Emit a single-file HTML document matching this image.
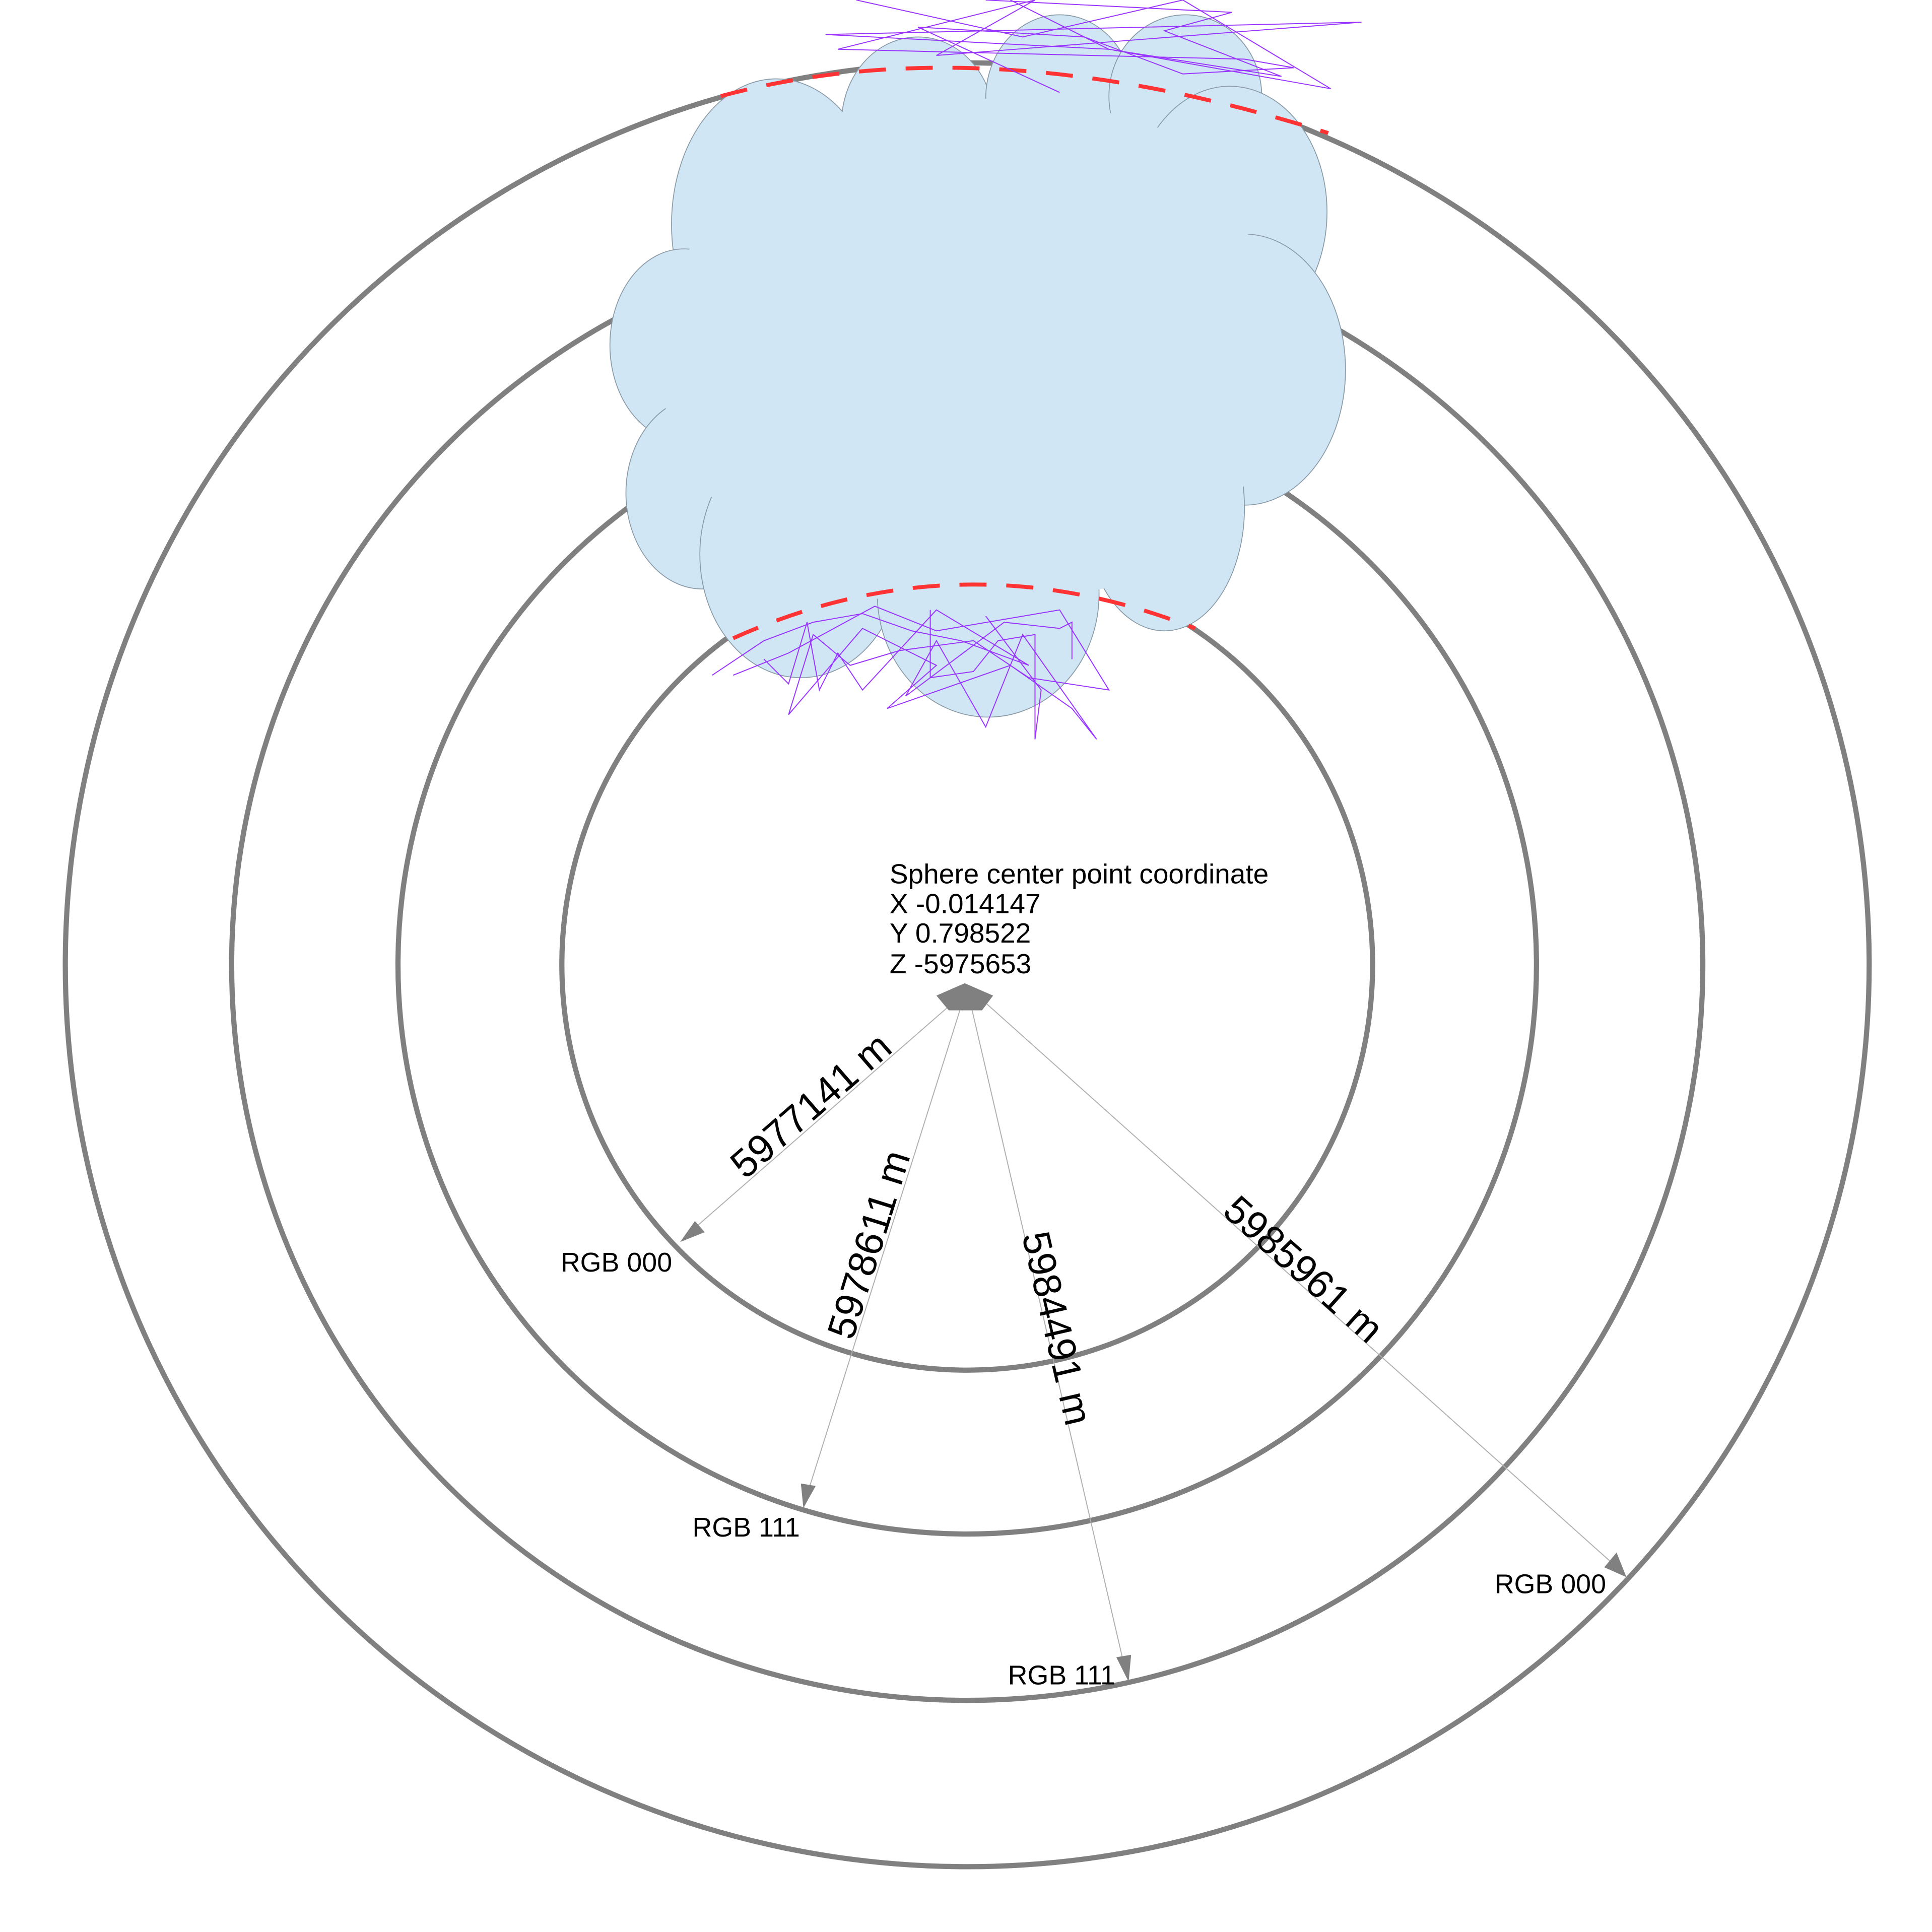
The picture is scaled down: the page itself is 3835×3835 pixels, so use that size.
<!DOCTYPE html>
<html><head><style>html,body{margin:0;padding:0;background:#fff}svg{display:block}</style></head><body>
<svg width="3835" height="3835" viewBox="0 0 1568 1568" xmlns="http://www.w3.org/2000/svg" font-family="Liberation Sans, sans-serif">
<rect width="1568" height="1568" fill="#fff"/>
<g fill="none" stroke="#808080" stroke-width="4.2">
<circle cx="785" cy="783" r="329"/>
<circle cx="785" cy="783" r="462"/>
<circle cx="785" cy="783" r="597"/>
<circle cx="785" cy="783" r="732"/>
</g>
<g fill="#d0e6f4" stroke="#8a9aa6" stroke-width="0.7">
<ellipse cx="745" cy="100" rx="62" ry="70"/>
<ellipse cx="860" cy="80" rx="60" ry="68"/>
<ellipse cx="962" cy="78" rx="62" ry="66"/>
<ellipse cx="630" cy="182" rx="85" ry="118"/>
<ellipse cx="998" cy="172" rx="79" ry="102"/>
<ellipse cx="1010" cy="300" rx="82" ry="110"/>
<ellipse cx="555" cy="280" rx="60" ry="78"/>
<ellipse cx="570" cy="400" rx="62" ry="78"/>
<ellipse cx="945" cy="412" rx="65" ry="100"/>
<ellipse cx="650" cy="450" rx="82" ry="100"/>
<ellipse cx="802" cy="482" rx="90" ry="100"/>
</g>
<ellipse cx="790" cy="290" rx="255" ry="205" fill="#d0e6f4"/>
<ellipse cx="790" cy="150" rx="200" ry="70" fill="#d0e6f4"/>
<ellipse cx="780" cy="430" rx="190" ry="60" fill="#d0e6f4"/>
<g fill="none" stroke="#ff3333" stroke-width="3.2" stroke-dasharray="22,16">
<path d="M585,78 Q800,20 1078,108"/>
<path d="M595,518 Q780,435 970,510"/>
</g>
<g fill="none" stroke="#9933ff" stroke-width="0.8">
<polyline points="695,0 830,30 960,0 1080,72 900,40 670,28 1105,18 760,45 840,0 680,40 1010,48 1050,55 960,60 880,30 745,22 860,75"/>
<polyline points="820,0 900,40 1040,62 945,25 1000,10 800,0"/>
<polyline points="595,548 640,530 710,492 760,512 860,495 900,560 835,550 790,520 730,528 690,540 660,515 640,580 700,510 760,540 720,575 820,540 870,575 890,600 830,515 800,590 760,520 735,565 815,505 860,510 870,505 870,535"/>
<polyline points="578,548 620,520 660,505 700,498 740,512 780,520 835,540 760,495 700,560 680,530 665,560 655,505 640,555 620,535"/>
<polyline points="755,495 755,550 790,545 810,520 840,515 840,600 845,560 800,500"/>
</g>
<g stroke="#b0b0b0" stroke-width="0.8" fill="none">
<line x1="772" y1="815" x2="560" y2="1000"/>
<line x1="779" y1="820" x2="656" y2="1210"/>
<line x1="789" y1="820" x2="912" y2="1350"/>
<line x1="800" y1="814" x2="1310" y2="1270"/>
</g>
<g fill="#808080">
<polygon points="783,798 806,808 797,820 770,820 760,808"/>
<polygon points="552,1008 564,991 572,1000"/>
<polygon points="652,1224 650,1204 662,1206"/>
<polygon points="916,1365 906,1345 918,1343"/>
<polygon points="1320,1280 1302,1272 1312,1260"/>
</g>
<g fill="#000" font-size="22.5">
<text x="722" y="717">Sphere center point coordinate</text>
<text x="722" y="741">X -0.014147</text>
<text x="722" y="765">Y 0.798522</text>
<text x="722" y="790">Z -5975653</text>
<text x="455" y="1032" font-size="22">RGB 000</text>
<text x="562" y="1247" font-size="22">RGB 111</text>
<text x="818" y="1367" font-size="22">RGB 111</text>
<text x="1213" y="1293" font-size="22">RGB 000</text>
</g>
<g fill="#000" font-size="32" text-anchor="middle">
<text transform="translate(658,897) rotate(-41)" dy="11">5977141 m</text>
<text transform="translate(705,1010) rotate(-72.7)" dy="11">5978611 m</text>
<text transform="translate(858,1078) rotate(77)" dy="11">5984491 m</text>
<text transform="translate(1058,1030) rotate(41.8)" dy="11">5985961 m</text>
</g>
</svg>
</body></html>
